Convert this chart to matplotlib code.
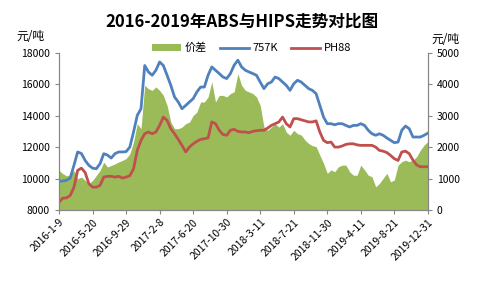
import matplotlib.pyplot as plt
import matplotlib.dates as mdates
import pandas as pd

plt.rcParams['font.family'] = ['Noto Sans CJK SC', 'DejaVu Sans']

# 价差 / 757K / PH88, sampled evenly from 2016-1-9 to 2019-12-31
dates = pd.date_range('2016-01-09', '2019-12-31', periods=100)

abs_757k = [9830, 9850, 9900, 10040, 10850, 11700, 11600, 11160, 10850, 10670,
            10630, 10950, 11590, 11500, 11310, 11590, 11700, 11700, 11720, 12010,
            12970, 14030, 14450, 17200, 16790, 16580, 16900, 17430, 17200, 16580,
            15940, 15200, 14880, 14450, 14660, 14880, 15090, 15520, 15830, 15830,
            16580, 17110, 16900, 16690, 16470, 16370, 16690, 17220, 17540, 17110,
            16900, 16790, 16690, 16580, 16150, 15730, 16040, 16150, 16470, 16370,
            16150, 15940, 15620, 16040, 16260, 16150, 15940, 15730, 15620, 15410,
            14670, 13920, 13500, 13500, 13430, 13500, 13500, 13390, 13290, 13390,
            13390, 13500, 13390, 13080, 12860, 12760, 12860, 12760, 12590, 12440,
            12290, 12330, 13080, 13350, 13180, 12650, 12650, 12650, 12760, 12900]

hips_ph88 = [8510, 8760, 8780, 8930, 9460, 10530, 10670, 10400, 9680, 9460,
             9460, 9570, 10100, 10150, 10150, 10100, 10150, 10040, 10100, 10190,
             10630, 11800, 12440, 12860, 12970, 12860, 12970, 13390, 13920, 13710,
             13180, 12860, 12500, 12120, 11700, 12010, 12220, 12380, 12500, 12540,
             12590, 13610, 13500, 13080, 12810, 12760, 13080, 13140, 13010, 12970,
             12970, 12930, 13010, 13050, 13080, 13080, 13220, 13390, 13500, 13610,
             13920, 13500, 13290, 13820, 13820, 13750, 13680, 13610, 13610, 13680,
             12970, 12440, 12290, 12330, 12010, 12010, 12080, 12180, 12220, 12220,
             12150, 12120, 12120, 12120, 12120, 12010, 11800, 11750, 11660, 11480,
             11270, 11160, 11700, 11750, 11590, 11180, 10870, 10760, 10760, 10760]

spread = [1260, 1160, 1090, 1120, 1260, 1000, 1050, 945, 840, 945,
          1100, 1260, 1530, 1370, 1420, 1470, 1530, 1580, 1640, 1790,
          2170, 2750, 2590, 3970, 3860, 3810, 3920, 3810, 3650, 3330,
          2800, 2590, 2590, 2640, 2750, 2800, 3010, 3120, 3440, 3440,
          3600, 4080, 3440, 3650, 3650, 3600, 3710, 3760, 4340, 3970,
          3810, 3760, 3710, 3600, 3330, 2640, 2540, 2640, 2750, 2640,
          2750, 2480, 2380, 2540, 2430, 2390, 2230, 2120, 2050, 2020,
          1750, 1490, 1170, 1280, 1220, 1380, 1430, 1430, 1220, 1110,
          1110, 1430, 1280, 1110, 1060, 740, 850, 1010, 1170, 900,
          960, 1430, 1540, 1590, 1540, 1590, 1700, 1910, 2070, 2180]

tick_labels = ['2016-1-9', '2016-5-20', '2016-9-29', '2017-2-8', '2017-6-20',
               '2017-10-30', '2018-3-11', '2018-7-21', '2018-11-30', '2019-4-11',
               '2019-8-21', '2019-12-31']

green = '#9BBB59'
blue = '#4F81BD'
red = '#C0504D'
grey = '#868686'

fig = plt.figure(figsize=(4.84, 2.91), dpi=100)
ax1 = fig.add_axes([0.122, 0.278, 0.762, 0.540])
ax2 = ax1.twinx()

ax2.fill_between(dates, spread, 0, color=green, lw=0, label='价差')
l1, = ax1.plot(dates, abs_757k, color=blue, lw=2.0, label='757K')
l2, = ax1.plot(dates, hips_ph88, color=red, lw=2.0, label='PH88')

# lines above the area
ax1.set_zorder(ax2.get_zorder() + 1)
ax1.patch.set_visible(False)

ticks = pd.to_datetime(tick_labels)
ax1.set_xlim(ticks[0], ticks[-1])
ax1.set_xticks(ticks)
ax1.set_xticklabels(tick_labels, rotation=45, ha='right', rotation_mode='anchor',
                    fontsize=7.5)

ax1.set_ylim(8000, 18000)
ax1.set_yticks(range(8000, 18001, 2000))
ax2.set_ylim(0, 5000)
ax2.set_yticks(range(0, 5001, 1000))

for ax in (ax1, ax2):
    for s in ax.spines.values():
        s.set_color(grey)
        s.set_linewidth(0.8)
    ax.spines['top'].set_visible(False)
    ax.tick_params(colors=grey, labelcolor='black', labelsize=7.5, length=3,
                   width=0.8)
ax1.tick_params(axis='x', pad=2)

fig.text(0.5, 0.925, '2016-2019年ABS与HIPS走势对比图', ha='center', va='center',
         fontsize=12, fontweight='bold')
fig.text(0.062, 0.875, '元/吨', ha='center', va='center', fontsize=8.5)
fig.text(0.92, 0.865, '元/吨', ha='center', va='center', fontsize=8.5)

handles = [ax2.collections[0], l1, l2]
fig.legend(handles, ['价差', '757K', 'PH88'], loc='center', ncol=3,
           bbox_to_anchor=(0.52, 0.835), frameon=False, fontsize=8,
           handlelength=2.6, handleheight=0.6, columnspacing=1.2, handletextpad=0.3)

fig.savefig('out.png', dpi=100)
